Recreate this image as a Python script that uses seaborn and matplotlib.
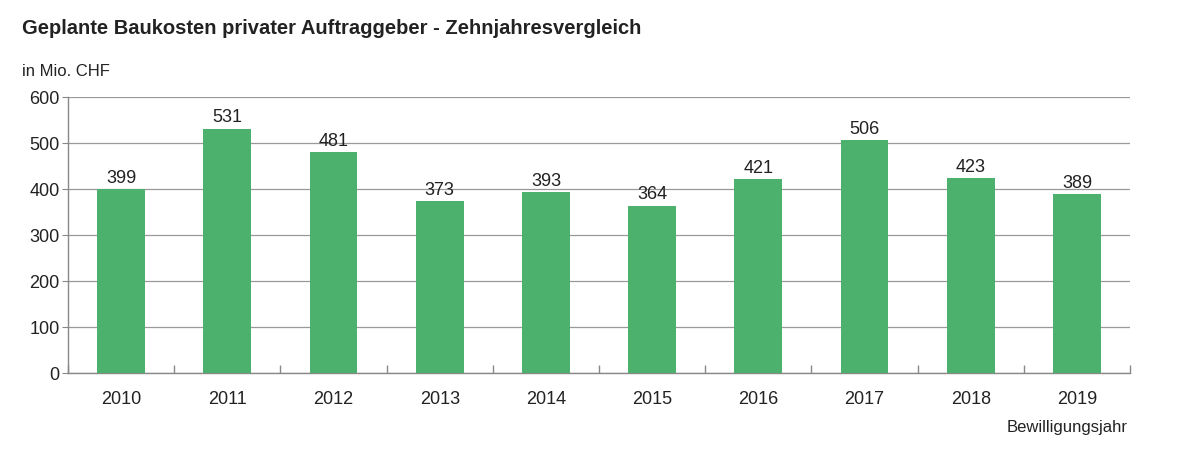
import matplotlib
matplotlib.use('Agg')
import matplotlib.pyplot as plt
import seaborn as sns
import pandas as pd
import numpy as np

# data
years = ['2010', '2011', '2012', '2013', '2014', '2015', '2016', '2017', '2018', '2019']
costs = [399, 531, 481, 373, 393, 364, 421, 506, 423, 389]
y_ticks = [0, 100, 200, 300, 400, 500, 600]

df = pd.DataFrame({'year': years, 'cost': costs})

sns.set_style('white')
plt.rcParams['font.family'] = ['Liberation Sans', 'DejaVu Sans']

fig = plt.figure(figsize=(12, 4.6), dpi=100)
ax = fig.add_axes([0.0567, 0.187, 0.885, 0.6])

green = '#4bb16c'
sns.barplot(data=df, x='year', y='cost', color=green, width=0.45,
            saturation=1, linewidth=0, ax=ax, zorder=3)

for i, v in enumerate(costs):
    ax.text(i, v + 7, str(v), ha='center', va='bottom', fontsize=13, color='#222222')

ax.set_ylim(0, 600)
ax.set_xlim(-0.5, len(years) - 0.5)
ax.set_yticks(y_ticks)
ax.yaxis.grid(True, color='#999999', linewidth=0.9, zorder=0)
ax.set_axisbelow(True)

for s in ['top', 'right']:
    ax.spines[s].set_visible(False)
ax.spines['left'].set_color('#888888')
ax.spines['bottom'].set_color('#888888')
ax.spines['left'].set_linewidth(1)
ax.spines['bottom'].set_linewidth(1)

ax.tick_params(axis='x', which='major', bottom=False, length=0, labelsize=13,
               labelcolor='#222222', pad=12)
ax.tick_params(axis='y', left=True, length=4, color='#888888', labelsize=13,
               labelcolor='#222222', pad=2)
ax.set_xticks(np.arange(-0.5, len(years)), minor=True)
ax.tick_params(axis='x', which='minor', bottom=True, direction='in', length=6,
               color='#888888', width=1)

ax.set_xlabel('')
ax.set_ylabel('')

fig.text(0.018, 0.925, 'Geplante Baukosten privater Auftraggeber - Zehnjahresvergleich',
         fontsize=14.5, fontweight='bold', color='#222222')
fig.text(0.018, 0.835, 'in Mio. CHF', fontsize=12, color='#222222')
fig.text(0.94, 0.06, 'Bewilligungsjahr', fontsize=12, color='#222222', ha='right')

fig.savefig('out.png', dpi=100)
